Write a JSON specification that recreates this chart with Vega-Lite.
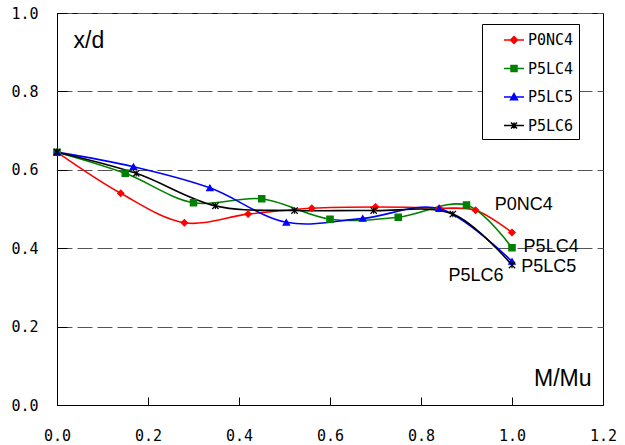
{
  "$schema": "https://vega.github.io/schema/vega-lite/v6.json",
  "autosize": {"type": "none"},
  "padding": {"left": 57, "top": 13, "right": 22, "bottom": 40},
  "width": 546,
  "height": 392,
  "background": "white",
  "config": {
    "view": {"stroke": "black", "strokeWidth": 1},
    "axis": {"domainColor": "black", "tickColor": "black", "labelColor": "black", "labelFont": "DejaVu Sans Mono", "labelFontSize": 15, "labelFlush": false, "titleFont": "Liberation Sans", "titleFontWeight": "normal", "titleFontSize": 23, "titleColor": "black"},
    "legend": {"labelFont": "DejaVu Sans Mono", "labelFontSize": 15, "labelColor": "black"}
  },
  "datasets": {
    "curves": [
      {"series": "P0NC4", "x": 0, "y": 0.645},
      {"series": "P0NC4", "x": 0.14, "y": 0.54},
      {"series": "P0NC4", "x": 0.28, "y": 0.465},
      {"series": "P0NC4", "x": 0.42, "y": 0.487},
      {"series": "P0NC4", "x": 0.56, "y": 0.502},
      {"series": "P0NC4", "x": 0.70, "y": 0.505},
      {"series": "P0NC4", "x": 0.84, "y": 0.502},
      {"series": "P0NC4", "x": 0.92, "y": 0.497},
      {"series": "P0NC4", "x": 1.0, "y": 0.44},
      {"series": "P5LC4", "x": 0, "y": 0.645},
      {"series": "P5LC4", "x": 0.15, "y": 0.591},
      {"series": "P5LC4", "x": 0.30, "y": 0.516},
      {"series": "P5LC4", "x": 0.45, "y": 0.526},
      {"series": "P5LC4", "x": 0.60, "y": 0.474},
      {"series": "P5LC4", "x": 0.75, "y": 0.479},
      {"series": "P5LC4", "x": 0.90, "y": 0.51},
      {"series": "P5LC4", "x": 1.0, "y": 0.401},
      {"series": "P5LC5", "x": 0, "y": 0.645},
      {"series": "P5LC5", "x": 0.168, "y": 0.608},
      {"series": "P5LC5", "x": 0.336, "y": 0.554},
      {"series": "P5LC5", "x": 0.504, "y": 0.466},
      {"series": "P5LC5", "x": 0.672, "y": 0.476},
      {"series": "P5LC5", "x": 0.84, "y": 0.501},
      {"series": "P5LC5", "x": 1.0, "y": 0.366},
      {"series": "P5LC6", "x": 0, "y": 0.645},
      {"series": "P5LC6", "x": 0.174, "y": 0.591},
      {"series": "P5LC6", "x": 0.348, "y": 0.508},
      {"series": "P5LC6", "x": 0.522, "y": 0.496},
      {"series": "P5LC6", "x": 0.696, "y": 0.496},
      {"series": "P5LC6", "x": 0.87, "y": 0.487},
      {"series": "P5LC6", "x": 1.0, "y": 0.357}
    ],
    "labels": [
      {"label": "P0NC4", "x": 1.026, "y": 0.51},
      {"label": "P5LC4", "x": 1.086, "y": 0.403},
      {"label": "P5LC5", "x": 1.081, "y": 0.352},
      {"label": "P5LC6", "x": 0.921, "y": 0.329}
    ]
  },
  "layer": [
    {
      "data": {"name": "curves"},
      "mark": {"type": "line", "interpolate": "catmull-rom", "strokeWidth": 1.6},
      "encoding": {
        "x": {"field": "x", "type": "quantitative", "scale": {"domain": [0, 1.2], "nice": false},
          "axis": {"values": [0, 0.2, 0.4, 0.6, 0.8, 1.0, 1.2], "format": ".1f", "grid": false, "tickSize": -8, "labelPadding": 31, "labelDx": -3,
            "title": "M/Mu", "titleAnchor": null, "titleAlign": "right", "titleBaseline": "middle", "titleX": 534, "titleY": -27}},
        "y": {"field": "y", "type": "quantitative", "scale": {"domain": [0, 1], "nice": false},
          "axis": {"values": [0, 0.2, 0.4, 0.6, 0.8, 1.0], "format": ".1f", "grid": true, "gridDash": [15, 5], "gridColor": "#555", "gridWidth": 1, "tickSize": -10, "labelPadding": 29, "labelDy": 1,
            "title": "x/d", "titleAngle": 0, "titleAnchor": null, "titleAlign": "left", "titleBaseline": "middle", "titleX": 16, "titleY": 27}},
        "color": {"field": "series", "type": "nominal",
          "scale": {"domain": ["P0NC4", "P5LC4", "P5LC5", "P5LC6"], "range": ["#ff0000", "#008000", "#0000ff", "#000000"]},
          "legend": {"title": null, "orient": "none", "legendX": 425, "legendY": 11,
            "padding": 5, "symbolOffset": 16, "rowPadding": 9.5, "symbolSize": 400, "labelOffset": 3,
            "labelFont": "DejaVu Sans Mono", "labelFontSize": 15, "labelColor": "black", "labelFontWeight": "normal",
            "strokeColor": "black", "fillColor": "white",
            "encode": {
              "labels": {"update": {
                "fontSize": {"value": 15},
                "font": {"value": "DejaVu Sans Mono"},
                "fontWeight": {"value": "normal"}
              }},
              "symbols": {"update": {
              "shape": {"signal": "datum.value === 'P0NC4' ? 'M-1,0L1,0M0,-0.35L0.35,0L0,0.35L-0.35,0Z' : datum.value === 'P5LC4' ? 'M-1,0L1,0M-0.3,-0.3L0.3,-0.3L0.3,0.3L-0.3,0.3Z' : datum.value === 'P5LC5' ? 'M-1,0L1,0M0,-0.35L0.35,0.28L-0.35,0.28Z' : 'M-1,0L1,0M-0.3,-0.3L0.3,0.3M-0.3,0.3L0.3,-0.3M0,-0.3L0,0.3'"},
              "fill": {"scale": "color", "field": "value"},
              "stroke": {"scale": "color", "field": "value"},
              "strokeWidth": {"value": 1.5},
              "opacity": {"value": 1}
            }}}
          }
        }
      }
    },
    {
      "data": {"name": "curves"},
      "mark": {"type": "point", "filled": true, "opacity": 1, "strokeWidth": 1.2, "size": 40},
      "encoding": {
        "x": {"field": "x", "type": "quantitative"},
        "y": {"field": "y", "type": "quantitative"},
        "fill": {"condition": [
          {"test": "datum.series === 'P0NC4'", "value": "#ff0000"},
          {"test": "datum.series === 'P5LC4'", "value": "#008000"},
          {"test": "datum.series === 'P5LC5'", "value": "#0000ff"}], "value": "#000000"},
        "stroke": {"condition": [
          {"test": "datum.series === 'P0NC4'", "value": "#ff0000"},
          {"test": "datum.series === 'P5LC4'", "value": "#008000"},
          {"test": "datum.series === 'P5LC5'", "value": "#0000ff"}], "value": "#000000"},
        "shape": {"condition": [
          {"test": "datum.series === 'P0NC4'", "value": "diamond"},
          {"test": "datum.series === 'P5LC4'", "value": "square"},
          {"test": "datum.series === 'P5LC5'", "value": "triangle-up"}], "value": "M-1,-1L1,1M-1,1L1,-1M0,-1L0,1"}
      }
    },
    {
      "data": {"name": "labels"},
      "mark": {"type": "text", "font": "Liberation Sans", "fontSize": 18, "color": "black", "align": "center", "baseline": "middle"},
      "encoding": {
        "x": {"field": "x", "type": "quantitative"},
        "y": {"field": "y", "type": "quantitative"},
        "text": {"field": "label", "type": "nominal"}
      }
    }
  ]
}
